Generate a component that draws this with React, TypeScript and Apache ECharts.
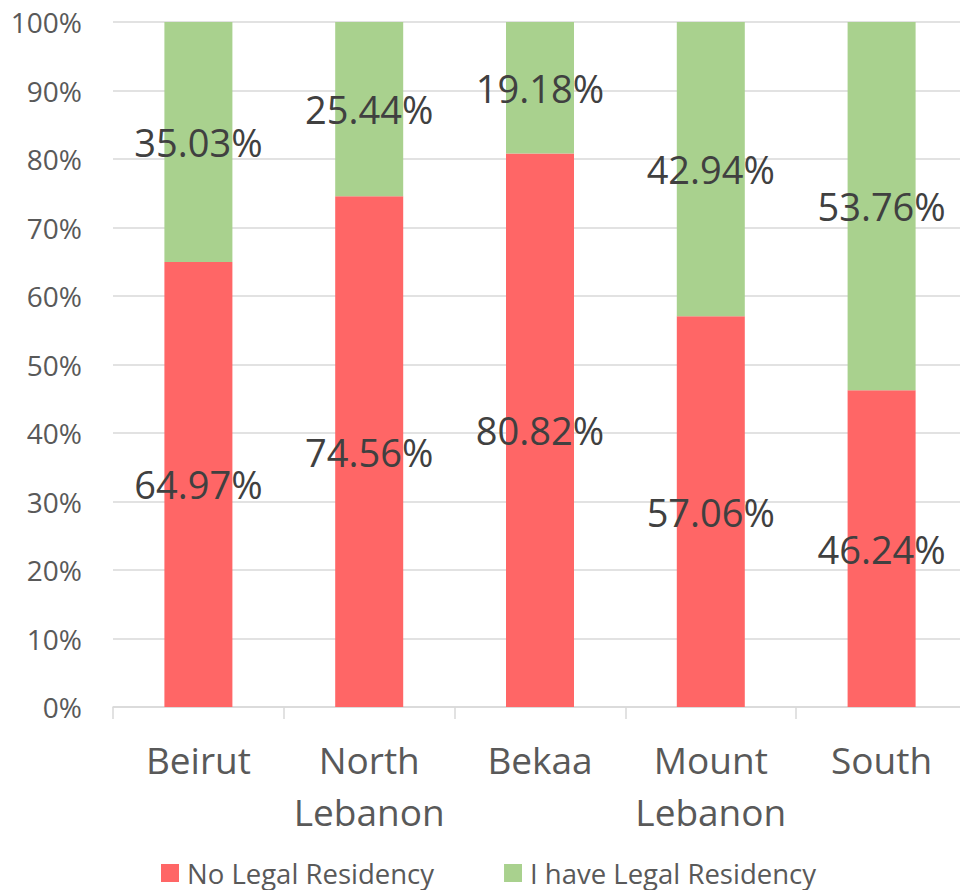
import React, { useEffect, useRef } from "react";
import * as echarts from "echarts";

const categories = ["Beirut", "North\nLebanon", "Bekaa", "Mount\nLebanon", "South"];
const noLegal = [64.97, 74.56, 80.82, 57.06, 46.24];
const haveLegal = [35.03, 25.44, 19.18, 42.94, 53.76];
const seriesNames = ["No Legal Residency", "I have Legal Residency"];
const colors = ["#FF6666", "#A9D18E"];

const FONT = "'Open Sans', 'Noto Sans', sans-serif";

export default function App() {
  const ref = useRef<HTMLDivElement>(null);
  useEffect(() => {
    if (!ref.current) return;
    const chart = echarts.init(ref.current, undefined, { renderer: "svg" });
    const labelCfg = {
      show: true,
      position: "inside" as const,
      fontFamily: FONT,
      fontSize: 38,
      color: "#404040",
      formatter: (p: any) => p.value.toFixed(2) + "%",
    };
    chart.setOption({
      animation: false,
      textStyle: { fontFamily: FONT },
      grid: { left: 113, top: 22, right: 0, height: 685, containLabel: false },
      legend: {
        top: 854,
        left: 156,
        itemWidth: 18,
        itemHeight: 18,
        itemGap: 70,
        icon: "rect",
        textStyle: { fontFamily: FONT, fontSize: 27.5, color: "#595959", padding: [0, 0, 0, 3] },
        data: seriesNames,
      },
      xAxis: {
        type: "category",
        data: categories,
        axisLine: { lineStyle: { color: "#D9D9D9", width: 1.5 } },
        axisTick: { show: true, length: 12, lineStyle: { color: "#D9D9D9", width: 1.5 } },
        axisLabel: {
          fontFamily: FONT,
          fontSize: 37,
          color: "#595959",
          lineHeight: 52,
          margin: 26,
          interval: 0,
        },
      },
      yAxis: {
        type: "value",
        min: 0,
        max: 100,
        interval: 10,
        axisLine: { show: false },
        axisTick: { show: false },
        splitLine: { lineStyle: { color: "#D9D9D9", width: 1.5 } },
        axisLabel: {
          fontFamily: FONT,
          fontSize: 28,
          color: "#595959",
          margin: 31,
          formatter: (v: number) => v + "%",
        },
      },
      series: [
        {
          name: seriesNames[0],
          type: "bar",
          stack: "total",
          barWidth: 68,
          itemStyle: { color: colors[0] },
          label: labelCfg,
          data: noLegal,
        },
        {
          name: seriesNames[1],
          type: "bar",
          stack: "total",
          barWidth: 68,
          itemStyle: { color: colors[1] },
          label: labelCfg,
          data: haveLegal,
        },
      ],
    });
    return () => chart.dispose();
  }, []);
  return (
    <div
      style={{
        position: "absolute",
        left: 0,
        top: 0,
        width: 960,
        height: 890,
        overflow: "hidden",
        background: "#fff",
      }}
    >
      <div ref={ref} style={{ width: 966.5, height: 890 }} />
    </div>
  );
}
